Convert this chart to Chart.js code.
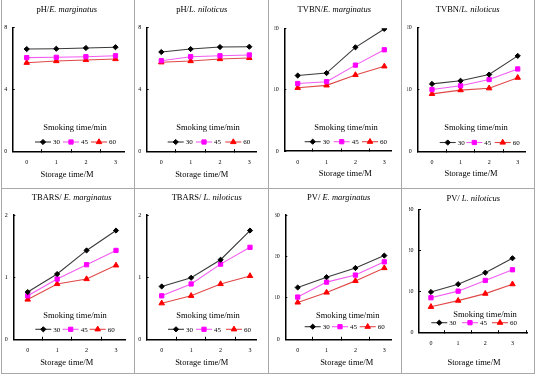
<!DOCTYPE html>
<html><head><meta charset="utf-8">
<script src="https://cdn.jsdelivr.net/npm/chart.js@4.4.1/dist/chart.umd.min.js"></script>
<style>
html,body{margin:0;padding:0;background:#fff;}
#wrap{position:relative;width:536px;height:383px;overflow:hidden;background:#fff;}
#wrap canvas{position:absolute;}
.vl{position:absolute;width:1px;background:#a8a8a8;z-index:5;}
.hl{position:absolute;height:1px;background:#a8a8a8;z-index:5;}
</style></head><body>
<div id="wrap"></div>
<script>
// ---------- data ----------
const storageMonths = [0, 1, 2, 3];
const smokingTimes = ['30', '45', '60'];
const xAxisTitle = 'Storage time/M';
const legendTitle = 'Smoking time/min';
const titlePrefixes = ['pH/', 'pH/', 'TVBN/', 'TVBN/', 'TBARS/ ', 'TBARS/ ', 'PV/ ', 'PV/ '];
const titleSpecies = ['E. marginatus', 'L. niloticus', 'E. marginatus', 'L. niloticus',
                      'E. marginatus', 'L. niloticus', 'E. marginatus', 'L. niloticus'];
const yAxisMax  = [8, 8, 20, 20, 2, 2, 30, 30];
const yAxisStep = [4, 4, 10, 10, 1, 1, 10, 10];

const pH_E_30 = [6.60, 6.62, 6.67, 6.72];
const pH_E_45 = [6.05, 6.07, 6.11, 6.17];
const pH_E_60 = [5.72, 5.83, 5.90, 5.96];
const pH_L_30 = [6.41, 6.60, 6.73, 6.75];
const pH_L_45 = [5.85, 6.11, 6.17, 6.22];
const pH_L_60 = [5.75, 5.83, 5.96, 6.03];
const tvbn_E_30 = [12.3, 12.7, 16.9, 19.9];
const tvbn_E_45 = [11.0, 11.3, 14.0, 16.5];
const tvbn_E_60 = [10.3, 10.7, 12.4, 13.8];
const tvbn_L_30 = [10.9, 11.4, 12.4, 15.4];
const tvbn_L_45 = [10.0, 10.6, 11.6, 13.3];
const tvbn_L_60 = [9.3, 9.9, 10.2, 11.9];
const tbars_E_30 = [0.76, 1.05, 1.43, 1.75];
const tbars_E_45 = [0.70, 0.97, 1.20, 1.43];
const tbars_E_60 = [0.64, 0.89, 0.97, 1.19];
const tbars_L_30 = [0.85, 0.99, 1.28, 1.75];
const tbars_L_45 = [0.70, 0.89, 1.21, 1.48];
const tbars_L_60 = [0.58, 0.70, 0.89, 1.02];
const pv_E_30 = [12.5, 15.0, 17.2, 20.2];
const pv_E_45 = [10.2, 13.8, 15.5, 18.7];
const pv_E_60 = [8.9, 11.3, 14.1, 17.2];
const pv_L_30 = [9.9, 11.8, 14.6, 18.1];
const pv_L_45 = [8.5, 10.1, 12.7, 15.3];
const pv_L_60 = [6.3, 7.8, 9.5, 11.8];

const panelSeries = [
  [pH_E_30, pH_E_45, pH_E_60],
  [pH_L_30, pH_L_45, pH_L_60],
  [tvbn_E_30, tvbn_E_45, tvbn_E_60],
  [tvbn_L_30, tvbn_L_45, tvbn_L_60],
  [tbars_E_30, tbars_E_45, tbars_E_60],
  [tbars_L_30, tbars_L_45, tbars_L_60],
  [pv_E_30, pv_E_45, pv_E_60],
  [pv_L_30, pv_L_45, pv_L_60]
];

// ---------- styles & layout ----------
const FONT = '"Liberation Serif", "Times New Roman", serif';
const lineColors   = ['#3a3a3a', '#f25cf2', '#e04848'];
const markerColors = ['#000000', '#ff00ff', '#ff0000'];
const markerStyles = ['rectRot', 'rect', 'triangle'];
const markerRadii  = [2.6, 3.0, 3.2];

const colX = [0, 134, 268, 402];
const rowY = [0, 188];
const rowH = [188, 186];
const PW = 134;
const Y_W = 10, X_H = 20;

const frames = [
  {L:12.7,T:27.3,R:124,B:151.7,x0:26.7,x3:115.5,tx:66.7,ty:10,sx:67,sy:175,lx:75,ly:128,my:142,mx:[43,71,99]},
  {L:12.7,T:27.3,R:122.7,B:151.7,x0:27.3,x3:115.3,tx:67.7,ty:10,sx:67.7,sy:175,lx:74,ly:128,my:142,mx:[41.7,70,99.3]},
  {L:16.3,T:28.3,R:123,B:151,x0:29.7,x3:116.3,tx:66.3,ty:10,sx:77.3,sy:173.3,lx:78,ly:127.7,my:141.7,mx:[44.7,73.7,102]},
  {L:15.3,T:27.3,R:123.3,B:151.7,x0:30,x3:115.7,tx:65.7,ty:10,sx:69,sy:173.3,lx:74,ly:128,my:142.5,mx:[45.7,72.3,100.7]},
  {L:13.3,T:27,R:125,B:151.3,x0:27.7,x3:116,tx:71.7,ty:9.7,sx:66.7,sy:174.7,lx:75,ly:128,my:141.3,mx:[43.3,70.7,97.7]},
  {L:12.7,T:27,R:122.7,B:151.3,x0:27.7,x3:116,tx:72.7,ty:9.7,sx:67.7,sy:174.7,lx:74,ly:128,my:141.3,mx:[42,70,100]},
  {L:17.3,T:27,R:123,B:151.3,x0:29.7,x3:116.3,tx:70.7,ty:9.7,sx:78.7,sy:174.7,lx:79.7,ly:128,my:138.7,mx:[44.7,72,99.7]},
  {L:17,T:21.3,R:132,B:144.7,x0:29.7,x3:116.3,tx:71.3,ty:10.7,sx:72,sy:174.7,lx:83,ly:126.3,my:134.7,mx:[37.3,68,98]}
];

const wrap = document.getElementById('wrap');
// frame lines
[[1,0,374],[134,0,374],[268,0,374],[401,0,374],[534,0,374]].forEach(([x,y,h])=>{
  const d=document.createElement('div'); d.className='vl';
  d.style.left=x+'px'; d.style.top=y+'px'; d.style.height=h+'px'; wrap.appendChild(d);
});
[[188,1,534],[373,1,534]].forEach(([y,x,w])=>{
  const d=document.createElement('div'); d.className='hl';
  d.style.left=x+'px'; d.style.top=y+'px'; d.style.width=w+'px'; wrap.appendChild(d);
});

const panelText = {
  id: 'panelText',
  afterDraw(chart, args, opts) {
    const ctx = chart.ctx, f = opts.frame, i = opts.index;
    ctx.save();
    ctx.fillStyle = '#000';
    ctx.textBaseline = 'middle';
    // panel title: plain prefix + italic species
    const fPre = '8.5px ' + FONT, fIt = 'italic 8.5px ' + FONT;
    ctx.font = fPre; const w1 = ctx.measureText(titlePrefixes[i]).width;
    ctx.font = fIt;  const w2 = ctx.measureText(titleSpecies[i]).width;
    const x = f.tx - (w1 + w2) / 2;
    ctx.textAlign = 'left';
    ctx.font = fPre; ctx.fillText(titlePrefixes[i], x, f.ty);
    ctx.font = fIt;  ctx.fillText(titleSpecies[i], x + w1, f.ty);
    // x axis title
    ctx.textAlign = 'center';
    ctx.font = '8.5px ' + FONT;
    ctx.fillText(xAxisTitle, f.sx, f.sy);
    // legend title
    ctx.font = '8.5px ' + FONT;
    ctx.fillText(legendTitle, f.lx, f.ly);
    // legend items
    chart.data.datasets.forEach((d, k) => {
      const mx = f.mx[k], my = f.my;
      ctx.strokeStyle = d.borderColor; ctx.lineWidth = d.borderWidth;
      ctx.beginPath(); ctx.moveTo(mx - 8, my); ctx.lineTo(mx + 8, my); ctx.stroke();
      ctx.fillStyle = d.pointBackgroundColor; ctx.strokeStyle = d.pointBorderColor; ctx.lineWidth = 1;
      Chart.helpers.drawPoint(ctx, {pointStyle: d.pointStyle, radius: d.pointRadius, rotation: 0, borderWidth: 1}, mx, my);
      ctx.fillStyle = '#000'; ctx.font = '7px ' + FONT; ctx.textAlign = 'left';
      ctx.fillText(d.label, mx + 10, my + 0.5);
    });
    ctx.restore();
  }
};

frames.forEach((f, i) => {
  const col = i % 4, row = Math.floor(i / 4);
  const H = rowH[row];
  const cv = document.createElement('canvas');
  cv.width = PW; cv.height = H;
  cv.style.left = colX[col] + 'px'; cv.style.top = rowY[row] + 'px';
  cv.style.width = PW + 'px'; cv.style.height = H + 'px';
  wrap.appendChild(cv);

  const s = (f.x3 - f.x0) / 3;
  const xMin = -(f.x0 - f.L) / s;
  const xMax = 3 + (f.R - f.x3) / s;

  const datasets = smokingTimes.map((lab, k) => ({
    label: lab,
    data: storageMonths.map((m, j) => ({x: m, y: panelSeries[i][k][j]})),
    borderColor: lineColors[k],
    backgroundColor: markerColors[k],
    pointBackgroundColor: markerColors[k],
    pointBorderColor: markerColors[k],
    pointStyle: markerStyles[k],
    pointRadius: markerRadii[k],
    pointBorderWidth: 1,
    borderWidth: 1.1,
    tension: 0,
    fill: false
  }));

  new Chart(cv, {
    type: 'line',
    data: {datasets},
    options: {
      responsive: false,
      maintainAspectRatio: false,
      animation: false,
      devicePixelRatio: 1,
      layout: {padding: {left: f.L - Y_W, top: f.T, right: PW - f.R, bottom: H - f.B - X_H}},
      plugins: {
        legend: {display: false},
        title: {display: false},
        tooltip: {enabled: false},
        panelText: {frame: f, index: i}
      },
      scales: {
        x: {
          type: 'linear', min: xMin, max: xMax,
          afterFit: sc => { sc.height = X_H; },
          border: {display: true, color: '#000', width: 1.5},
          grid: {
            drawOnChartArea: false, drawTicks: true, tickLength: -2.5, tickWidth: 1,
            tickColor: c => (c.tick && Math.abs(c.tick.value % 1) === 0.5) ? '#000' : 'rgba(0,0,0,0)'
          },
          ticks: {
            stepSize: 0.5, autoSkip: false, includeBounds: false, maxRotation: 0,
            padding: 9.9, color: '#000', font: {family: FONT, size: 6},
            callback: v => Number.isInteger(v) ? String(v) : ''
          }
        },
        y: {
          min: 0, max: yAxisMax[i],
          afterFit: sc => { sc.width = Y_W; },
          border: {display: true, color: '#000', width: 1.5},
          grid: {drawOnChartArea: false, drawTicks: true, tickLength: -2, tickColor: '#000'},
          ticks: {stepSize: yAxisStep[i], padding: 7.5, color: '#000', font: {family: FONT, size: 6}}
        }
      }
    },
    plugins: [panelText]
  });
});
</script>
</body></html>
